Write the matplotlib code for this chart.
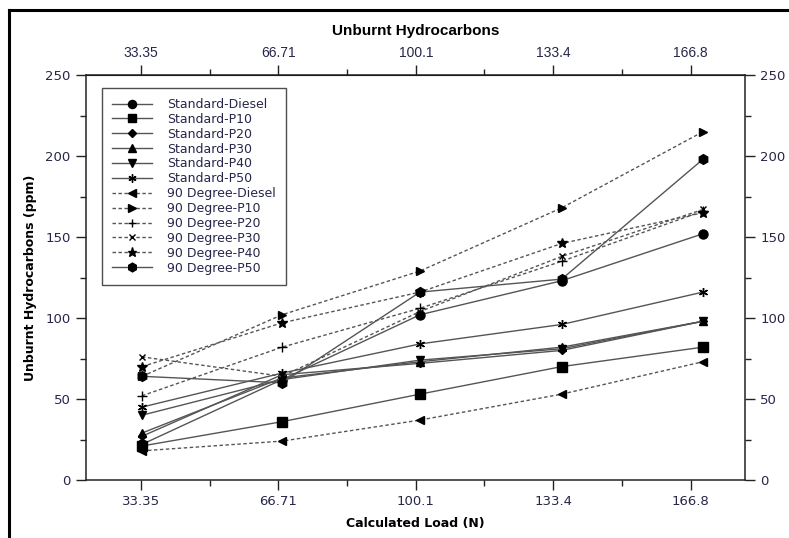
import matplotlib
matplotlib.use('Agg')
import matplotlib.pyplot as plt
from matplotlib.lines import Line2D
import numpy as np

# calculated load (N) where the points sit, and the labelled tick values
load = [33.6, 67.6, 101.1, 135.5, 169.8]
tick_vals = [33.355, 66.71, 100.065, 133.42, 166.775]
tick_labels = ['33.35', '66.71', '100.1', '133.4', '166.8']

# unburnt hydrocarbons (ppm)
std_diesel = [22, 62, 102, 123, 152]
std_p10 = [21, 36, 53, 70, 82]
std_p20 = [27, 65, 72, 80, 98]
std_p30 = [29, 63, 73, 82, 98]
std_p40 = [40, 62, 74, 81, 98]
std_p50 = [45, 66, 84, 96, 116]
deg90_diesel = [18, 24, 37, 53, 73]
deg90_p10 = [64, 102, 129, 168, 215]
deg90_p20 = [52, 82, 106, 135, 166]
deg90_p30 = [76, 64, 104, 138, 167]
deg90_p40 = [70, 97, 116, 146, 165]
deg90_p50 = [64, 60, 116, 124, 198]

series = [
    ('Standard-Diesel', std_diesel, '-', 'o', 6.5),
    ('Standard-P10', std_p10, '-', 's', 6.5),
    ('Standard-P20', std_p20, '-', 'D', 4),
    ('Standard-P30', std_p30, '-', '^', 6),
    ('Standard-P40', std_p40, '-', 'v', 6),
    ('Standard-P50', std_p50, '-', (6, 2, 0), 6.5),
    ('90 Degree-Diesel', deg90_diesel, '--', '<', 6),
    ('90 Degree-P10', deg90_p10, '--', '>', 6),
    ('90 Degree-P20', deg90_p20, '--', '+', 6.5),
    ('90 Degree-P30', deg90_p30, '--', 'x', 4.5),
    ('90 Degree-P40', deg90_p40, '--', '*', 7.5),
    ('90 Degree-P50', deg90_p50, '-', 'h', 7),
]

txt = '#26264a'

fig = plt.figure(figsize=(7.89, 5.38), dpi=100)
ax = fig.add_axes([86/789, 1-480/538, 659/789, 405/538])

for name, vals, ls, mk, ms in series:
    ax.plot(load, vals, linestyle=ls, color='#555555', linewidth=1.0,
            dashes=(2.5, 1.8) if ls == '--' else (None, None),
            marker=mk, markersize=ms, markerfacecolor='black',
            markeredgecolor='black', markeredgewidth=1.0, label=name)

ax.set_xlim(20, 180)
ax.set_ylim(0, 250)
ax.set_xticks(tick_vals)
ax.set_xticklabels(tick_labels)
ax.set_xticks([50.03, 83.39, 116.74, 150.1], minor=True)
ax.set_yticks([0, 50, 100, 150, 200, 250])
ax.set_yticks([25, 75, 125, 175, 225], minor=True)
ax.tick_params(which='major', direction='out', length=7.5, width=1, colors='#222222',
               labelcolor=txt, labelsize=9.5, left=True, right=True,
               labelleft=True, labelright=True)
ax.tick_params(which='minor', direction='out', length=4.5, width=1, colors='#222222',
               left=True, right=True)
for sp in ax.spines.values():
    sp.set_linewidth(1.1)
    sp.set_color('#222222')

ax.set_xlabel('Calculated Load (N)', fontsize=9, fontweight='bold', labelpad=6)
ax.set_ylabel('Unburnt Hydrocarbons (ppm)', fontsize=9, fontweight='bold', labelpad=6)

top = ax.secondary_xaxis('top')
top.set_xticks(tick_vals)
top.set_xticklabels(tick_labels, fontfamily='Liberation Sans', fontsize=10)
top.set_xticks([50.03, 83.39, 116.74, 150.1], minor=True)
top.tick_params(which='major', direction='out', length=7.5, width=1, colors='#222222',
                labelcolor=txt)
top.tick_params(which='minor', direction='out', length=4.5, width=1, colors='#222222')
top.set_xlabel('Unburnt Hydrocarbons', fontfamily='Liberation Sans', fontsize=11,
               fontweight='bold', labelpad=8)

leg = ax.legend(loc='upper left', bbox_to_anchor=(0.024, 0.968), borderaxespad=0,
                fontsize=9, handlelength=3.2, handletextpad=1.2, labelspacing=0.15,
                fancybox=False, frameon=True, borderpad=0.8, markerscale=0.9)
leg.get_frame().set_edgecolor('#222222')
leg.get_frame().set_linewidth(1.0)
for t in leg.get_texts():
    t.set_color(txt)

# outer frame of the picture (left and top edges)
fig.add_artist(Line2D([9/789, 9/789], [0, 1-10/538], transform=fig.transFigure,
                      color='black', linewidth=2.2))
fig.add_artist(Line2D([9/789, 1], [1-10/538, 1-10/538], transform=fig.transFigure,
                      color='black', linewidth=2.2))

fig.savefig('out.png', dpi=100)
